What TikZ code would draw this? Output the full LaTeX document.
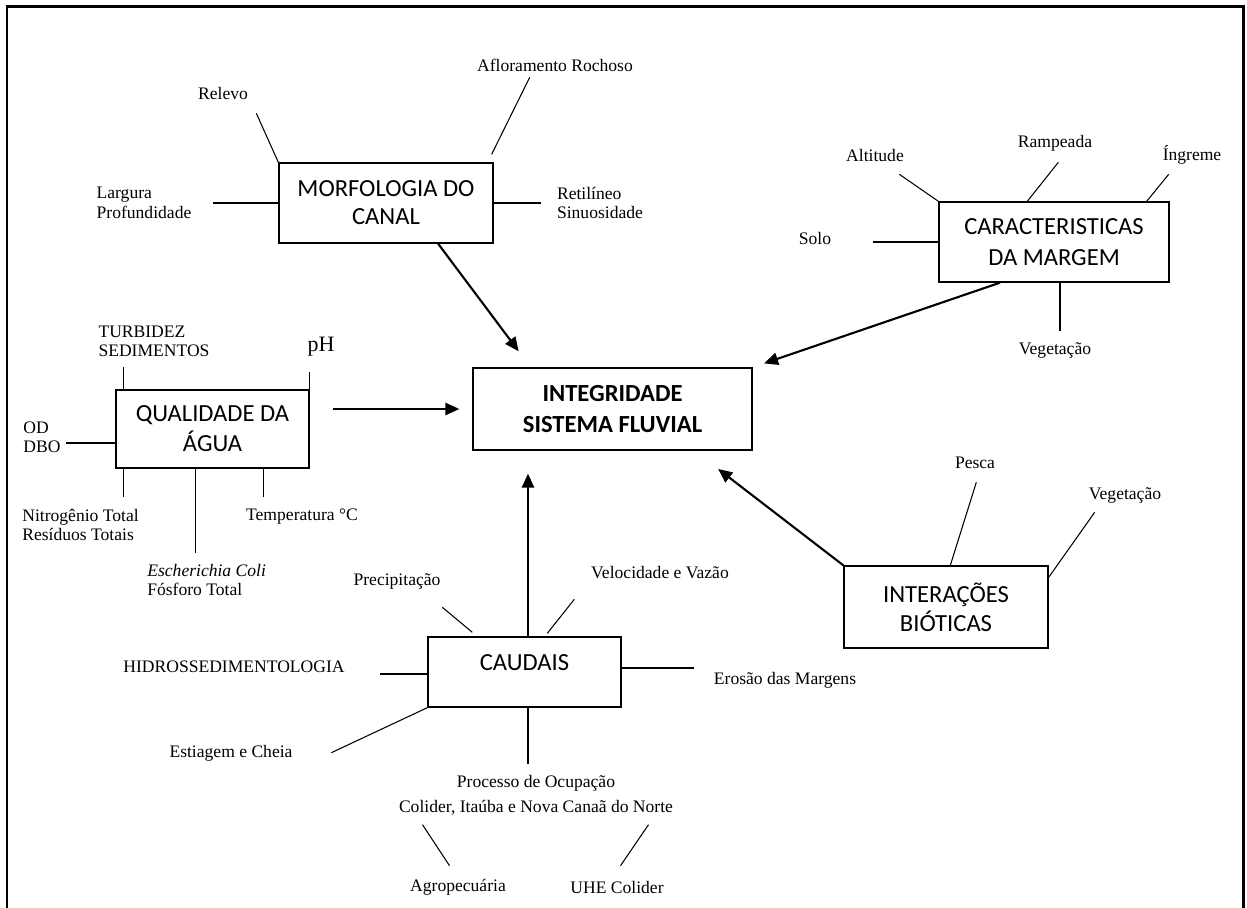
\documentclass[tikz,border=0pt]{standalone}
\usepackage{fontspec}
\setmainfont{Liberation Serif}
\newfontfamily\caixafont{Carlito}
\usetikzlibrary{arrows.meta,positioning,calc}

\tikzset{
  caixa/.style={draw, line width=0.8pt, inner sep=0pt, align=center,
    font=\caixafont\fontsize{14}{17}\selectfont},
  rotulo/.style={inner sep=0pt, font=\fontsize{10}{11}\selectfont},
  haste/.style={line width=0.6pt},
  seta/.style={line width=1.2pt, -{Triangle[length=8pt,width=7pt]}}
}

\begin{document}
\begin{tikzpicture}[x=0.02cm, y=-0.02cm]
\useasboundingbox (0,0) rectangle (1247,908);
% Moldura
\draw[line width=1.7pt] (7,908) -- (7,7) -- (1243,7) -- (1243,908);

% Caixa central
\node[caixa, font=\caixafont\bfseries\fontsize{14}{17.5}\selectfont,
  minimum width=5.58cm, minimum height=1.64cm] (integ) at (612.5,409) {INTEGRIDADE\\SISTEMA FLUVIAL};

% Morfologia do canal
\node[caixa, font=\caixafont\fontsize{14}{16}\selectfont,
  minimum width=4.28cm, minimum height=1.6cm] (morf) at (386,203) {MORFOLOGIA DO\\CANAL};
\node[rotulo] (relevo) at (223,93) {Relevo};
\node[rotulo] (aflor) at (555,65) {Afloramento Rochoso};
\node[rotulo, align=left] (largura) at (144,203) {Largura\\Profundidade};
\node[rotulo, align=left] (retil) at (600,203) {Retilíneo\\Sinuosidade};
\draw[haste] (morf.north west) -- ++(-22,-49);
\draw[haste] ($(morf.north east)+(-2,-8)$) -- ++(38,-77);
\draw[haste] (morf.west) -- ++(-65,0);
\draw[haste] (morf.east) -- ++(47,0);
\draw[seta, shorten >=0.4cm] (morf.-38) -- (integ.153.6);

% Qualidade da agua
\node[caixa, minimum width=3.86cm, minimum height=1.56cm] (qual) at (212.5,429) {QUALIDADE DA\\ÁGUA};
\node[rotulo, align=left] (turb) at (154,341) {TURBIDEZ\\SEDIMENTOS};
\node[rotulo, font=\fontsize{12.5}{14}\selectfont] (ph) at (321,347) {pH};
\node[rotulo, align=left, anchor=west] (od) at (23,437) {OD\\DBO};
\node[rotulo, align=left, anchor=west] (nitro) at (22,525) {Nitrogênio Total\\Resíduos Totais};
\node[rotulo, align=left, anchor=west] (coli) at (147,580) {\textit{Escherichia Coli}\\Fósforo Total};
\node[rotulo] (temp) at (302,517) {Temperatura °C};
\draw[haste] ($(qual.north west)+(8,0)$) -- ++(0,-22);
\draw[haste] (qual.north east) -- ++(0,-17);
\draw[haste] ($(qual.west)+(0,14)$) -- ++(-49,0);
\draw[haste] ($(qual.south west)+(8,0)$) -- ++(0,28);
\draw[haste] ($(qual.south west)+(80,0)$) -- ++(0,84);
\draw[haste] ($(qual.south west)+(148,0)$) -- ++(0,28);
\draw[seta, shorten <=0.46cm, shorten >=0.26cm] (qual.east |- integ.west) -- (integ.west);

% Caracteristicas da margem
\node[caixa, font=\caixafont\fontsize{14}{18}\selectfont,
  minimum width=4.6cm, minimum height=1.6cm] (marg) at (1054,242) {CARACTERISTICAS\\DA MARGEM};
\node[rotulo] (alt) at (875,155) {Altitude};
\node[rotulo] (ramp) at (1055,143) {Rampeada};
\node[rotulo] (ingr) at (1192,155) {Íngreme};
\node[rotulo] (solo) at (815,238) {Solo};
\node[rotulo] (vegm) at (1055,350) {Vegetação};
\draw[haste] (marg.north west) -- ++(-39,-27);
\draw[haste] ($(marg.north west)+(89,0)$) -- ++(31,-39);
\draw[haste] ($(marg.north east)+(-23,0)$) -- ++(22,-27);
\draw[haste] (marg.west) -- ++(-65,0);
\draw[haste] ($(marg.south)+(6,0)$) -- ++(0,48);
\draw[seta, shorten >=0.24cm] (marg.217) -- (integ.north east);

% Interacoes bioticas
\node[caixa, font=\caixafont\fontsize{14}{16.5}\selectfont,
  minimum width=4.08cm, minimum height=1.64cm] (inter) at (946,607) {INTERAÇÕES\\BIÓTICAS};
\node[rotulo] (pesca) at (975,463) {Pesca};
\node[rotulo] (vegb) at (1125,495) {Vegetação};
\draw[haste] ($(inter.north west)+(107,0)$) -- ++(26,-83);
\draw[haste] ($(inter.north east)+(0,12)$) -- ++(46,-65);
\draw[seta, shorten >=0.6cm] (inter.north west) -- (integ.-27);

% Caudais
\node[caixa, minimum width=3.86cm, minimum height=1.4cm, text depth=11pt] (caud) at (524.5,672) {CAUDAIS};
\node[rotulo] (prec) at (397,581) {Precipitação};
\node[rotulo] (veloc) at (660,573) {Velocidade e Vazão};
\node[rotulo] (hidro) at (234,667) {HIDROSSEDIMENTOLOGIA};
\node[rotulo] (eros) at (785,680) {Erosão das Margens};
\node[rotulo] (estiag) at (231,753) {Estiagem e Cheia};
\node[rotulo, align=center] (proc) at (536,795) {Processo de Ocupação\\[3pt]Colider, Itaúba e Nova Canaã do Norte};
\node[rotulo] (agro) at (458,887) {Agropecuária};
\node[rotulo] (uhe) at (617,887) {UHE Colider};
\draw[haste] ($(caud.north west)+(45,-4)$) -- ++(-30,-25);
\draw[haste] ($(caud.north west)+(120,-3)$) -- ++(27,-34);
\draw[haste] ($(caud.west)+(0,2)$) -- ++(-47,0);
\draw[haste] ($(caud.east)+(0,-4)$) -- ++(72,0);
\draw[haste] (caud.south west) -- ++(-96,45);
\draw[haste] ($(caud.south)+(3.5,0)$) -- ++(0,56);
\draw[haste] ($(caud.south)+(-102,117)$) -- ++(27,41);
\draw[haste] ($(caud.south)+(124,117)$) -- ++(-28,41);
\draw[seta, shorten >=0.46cm] ($(caud.north)+(3.5,0)$) -- ($(caud.north |- integ.south)+(3.5,0)$);

\end{tikzpicture}
\end{document}
